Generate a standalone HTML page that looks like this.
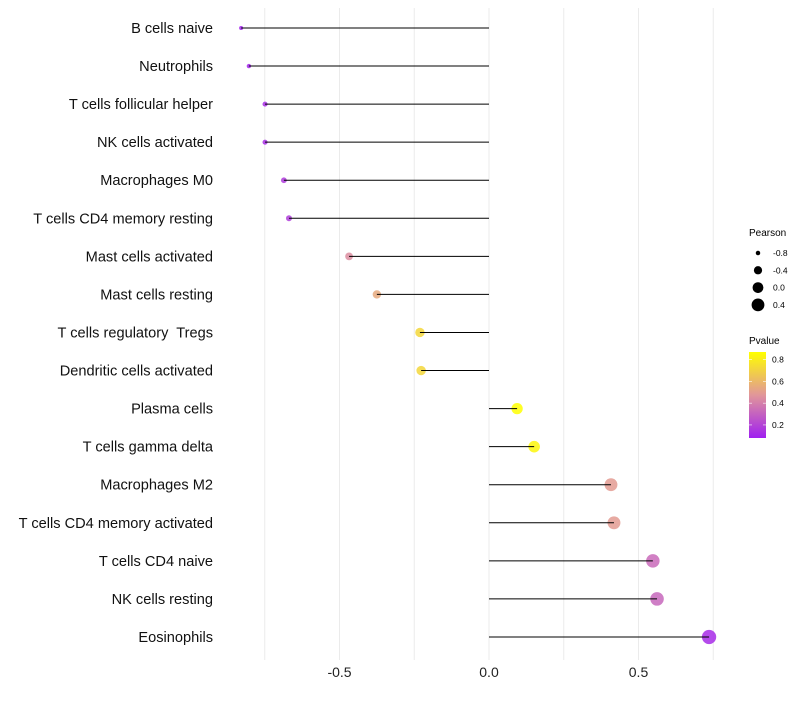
<!DOCTYPE html>
<html><head><meta charset="utf-8"><style>
body{margin:0;background:#fff;font-family:"Liberation Sans",sans-serif}
text{white-space:pre}
</style></head><body>
<svg id="c" width="800" height="700" xmlns="http://www.w3.org/2000/svg">
<defs><linearGradient id="pg" x1="0" y1="1" x2="0" y2="0">
<stop offset="0" stop-color="#a020f0"/><stop offset="0.5" stop-color="#e1969a"/><stop offset="1" stop-color="#ffff00"/>
</linearGradient></defs>
<g id="grid"></g><g id="marks"></g><g id="axes"></g>
<g font-size="9" fill="#000">
<text x="749" y="236" font-size="10">Pearson</text>
<g id="sizeleg"></g>
<text x="749" y="344" font-size="10">Pvalue</text>
<rect x="749" y="352" width="17" height="86" fill="url(#pg)"/>
<g id="colleg"></g>
</g>
</svg>
<script>
const categories=["B cells naive","Neutrophils","T cells follicular helper","NK cells activated","Macrophages M0","T cells CD4 memory resting","Mast cells activated","Mast cells resting","T cells regulatory  Tregs","Dendritic cells activated","Plasma cells","T cells gamma delta","Macrophages M2","T cells CD4 memory activated","T cells CD4 naive","NK cells resting","Eosinophils"];
const pearson=[-0.829,-0.803,-0.749,-0.749,-0.686,-0.669,-0.468,-0.375,-0.231,-0.227,0.094,0.151,0.408,0.418,0.548,0.562,0.736];
const pvalue=[0.09,0.1,0.13,0.13,0.17,0.18,0.45,0.55,0.72,0.72,0.87,0.84,0.5,0.5,0.33,0.32,0.12];
const xTicks=[-0.5,0,0.5];
const xTickLabels=["-0.5","0.0","0.5"];
const xMinor=[-0.75,-0.25,0.25,0.75];
const sizeLegend=[-0.8,-0.4,0,0.4];
const colLegend=[0.8,0.6,0.4,0.2];
const NS="http://www.w3.org/2000/svg";
const X=v=>489+v*299;
const Y=i=>28+i*38.06;
const R=v=>Math.sqrt(Math.max(2,29+30*v));
function col(p){
 const stops=[[0.08,[160,32,240]],[0.48,[225,150,154]],[0.87,[255,255,0]]];
 p=Math.max(0.08,Math.min(0.87,p));
 for(let k=0;k<2;k++){const[a,ca]=stops[k],[b,cb]=stops[k+1];if(p<=b){const t=(p-a)/(b-a);return`rgb(${ca.map((c,j)=>Math.round(c+(cb[j]-c)*t)).join(",")})`;}}
}
const PY=v=>352+(0.87-v)/0.79*86;
function el(t,a,parent,txt){const e=document.createElementNS(NS,t);for(const k in a)e.setAttribute(k,a[k]);if(txt!=null)e.textContent=txt;parent.appendChild(e);return e;}
const grid=document.getElementById('grid'),marks=document.getElementById('marks'),axes=document.getElementById('axes');
[...xTicks,...xMinor].forEach(v=>{const l=el('line',{x1:X(v),x2:X(v),y1:8,y2:660,stroke:'#ebebeb','stroke-width':1},grid);

});
xTicks.forEach((v,i)=>{const t=el('text',{x:X(v),y:677,'text-anchor':'middle','font-size':14,fill:'#222'},axes,xTickLabels[i]);

});
categories.forEach((c,i)=>{
 const t=el('text',{x:213,y:Y(i)+5,'text-anchor':'end','font-size':14.6,fill:'#111'},axes,c);
 
 
 const ci=el('circle',{cx:X(pearson[i]),cy:Y(i),r:R(pearson[i]),fill:col(pvalue[i]),'fill-opacity':0.85},marks);
 
 
 const l=el('line',{x1:X(0),x2:X(pearson[i]),y1:Y(i),y2:Y(i),stroke:'#000','stroke-width':1},marks);
 
 
});
const sl=document.getElementById('sizeleg');
sizeLegend.forEach((v,i)=>{const y=253+i*17.3;
 const c=el('circle',{cx:758,cy:y,r:R(v),fill:'#000'},sl);
 
 
 const t=el('text',{x:773,y:y+3,'font-size':8.5},sl,v===0?"0.0":String(v));
 
 });
const cl=document.getElementById('colleg');
colLegend.forEach(v=>{const y=PY(v);
 el('line',{x1:749,x2:752,y1:y,y2:y,stroke:'#fff','stroke-width':0.6},cl);
 el('line',{x1:763,x2:766,y1:y,y2:y,stroke:'#fff','stroke-width':0.6},cl);
 const t=el('text',{x:772,y:y+3,'font-size':8.5},cl,v.toFixed(1));
 
 });
</script>
</body></html>
